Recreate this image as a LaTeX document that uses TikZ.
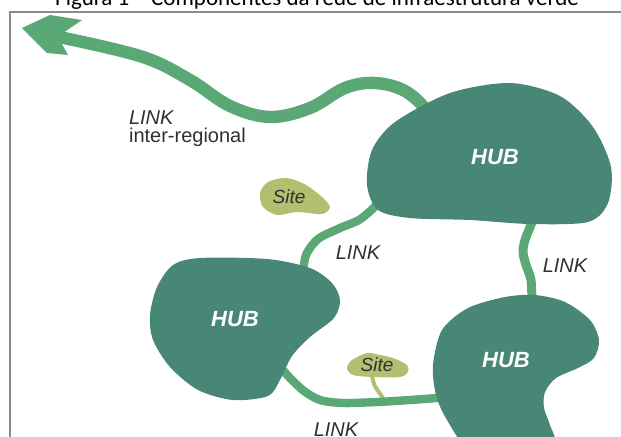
\documentclass[tikz,border=0pt]{standalone}
\usepackage{fontspec}
\setmainfont{Liberation Sans}
\newfontfamily\titlefont{Carlito}
\definecolor{hubcol}{RGB}{72,135,118}
\definecolor{linkcol}{RGB}{90,168,118}
\definecolor{sitecol}{RGB}{180,190,112}
\definecolor{txtcol}{RGB}{48,48,48}
\begin{document}
\begin{tikzpicture}[x=0.5pt, y=-0.5pt,
    hub/.style={fill=hubcol},
    link/.style={draw=linkcol, line width=4.2pt, line cap=round, line join=round},
    site/.style={fill=sitecol},
    hublabel/.style={text=white, font=\fontsize{11}{13}\selectfont\bfseries\itshape},
    linklabel/.style={text=txtcol, font=\fontsize{10}{12}\selectfont\itshape},
    sitelabel/.style={text=txtcol, font=\fontsize{9.5}{11}\selectfont\itshape},
  ]
    \useasboundingbox (0,0) rectangle (621,436);
    \clip (0,0) rectangle (621,436);

    \node[font=\titlefont\fontsize{11.5}{14}\selectfont, anchor=base] (title) at (317,5)
      {Figura 1 – Componentes da rede de infraestrutura verde};
    \draw[black!45, line width=0.9pt] (10,445) -- (10,12) -- (630,12);

    \coordinate (arrow) at (64,38);
    \coordinate (ne-w) at (440,135);
    \coordinate (ne-sw) at (390,192);
    \coordinate (ne-s) at (535,210);
    \coordinate (w-n) at (303,275);
    \coordinate (w-se) at (272,358);
    \coordinate (se-n) at (532,305);
    \coordinate (se-w) at (450,397);

    \draw[sitecol, line width=2pt, line cap=round] (372,372) .. controls (372,386) and (378,390) .. (383,398);

    \fill[linkcol] (22,28) -- (50,15) -- (82,20) -- (63,33) -- (62,44) -- (68,55) -- (47,53) -- cycle;
    \draw[link, line width=6.2pt] plot[smooth, tension=0.6] coordinates
      {(arrow) (143,57) (190,80) (230,106) (270,117) (310,108) (345,88) (375,83) (405,91) (428,112) (ne-w)};
    \draw[link] plot[smooth] coordinates {(w-n) (306,255) (318,239) (340,228) (362,218) (ne-sw)};
    \draw[link, line width=4.5pt] plot[smooth] coordinates {(ne-s) (532,222) (525,240) (523,252) (526,265) (531,280) (se-n)};
    \draw[link] plot[smooth] coordinates {(w-se) (281,368) (291,379) (304,391) (320,400) (343,403) (377,402) (410,400) (se-w)};

    \fill[hub] plot[smooth cycle] coordinates {(367,185) (372,150) (395,122) (450,93) (510,83) (560,96) (593,127)
      (611,167) (608,203) (588,222) (530,224) (470,220) (410,218) (378,210)};
    \fill[hub] plot[smooth cycle] coordinates {(150,315) (157,287) (173,265) (200,258) (267,259) (310,268) (332,283)
      (340,300) (334,318) (310,337) (292,356) (280,380) (268,396) (233,400) (198,390) (170,367) (153,340)};
    \fill[hub] plot[smooth cycle] coordinates {(433,365) (442,330) (468,308) (505,297) (535,295) (565,302) (590,320)
      (599,340) (594,358) (578,368) (556,378) (545,392) (544,408) (550,425) (554,445) (520,460) (470,450) (447,420) (436,395)};

    \fill[site] plot[smooth cycle] coordinates {(260,193) (268,182) (287,178) (306,185) (322,197) (330,207)
      (322,214) (297,212) (277,215) (263,207)};
    \fill[site] plot[smooth cycle] coordinates {(347,368) (352,360) (367,353) (380,355) (393,358) (407,365)
      (408,372) (400,377) (373,377) (353,375)};

    \node[hublabel] (hubNE) at (495,157) {HUB};
    \node[hublabel] (hubW) at (235,319) {HUB};
    \node[hublabel] (hubSE) at (506,360) {HUB};

    \node[sitelabel] (site1) at (289,197) {Site};
    \node[sitelabel] (site2) at (377,365) {Site};

    \node[linklabel, anchor=base west] (linkIR) at (122,124) {LINK};
    \node[text=txtcol, font=\fontsize{10}{12}\selectfont, anchor=base west] (interreg) at (122,142) {inter-regional};
    \node[linklabel] (linkNW) at (358,253) {LINK};
    \node[linklabel] (linkE) at (565,266) {LINK};
    \node[linklabel] (linkS) at (336,430) {LINK};
  \end{tikzpicture}
\end{document}
